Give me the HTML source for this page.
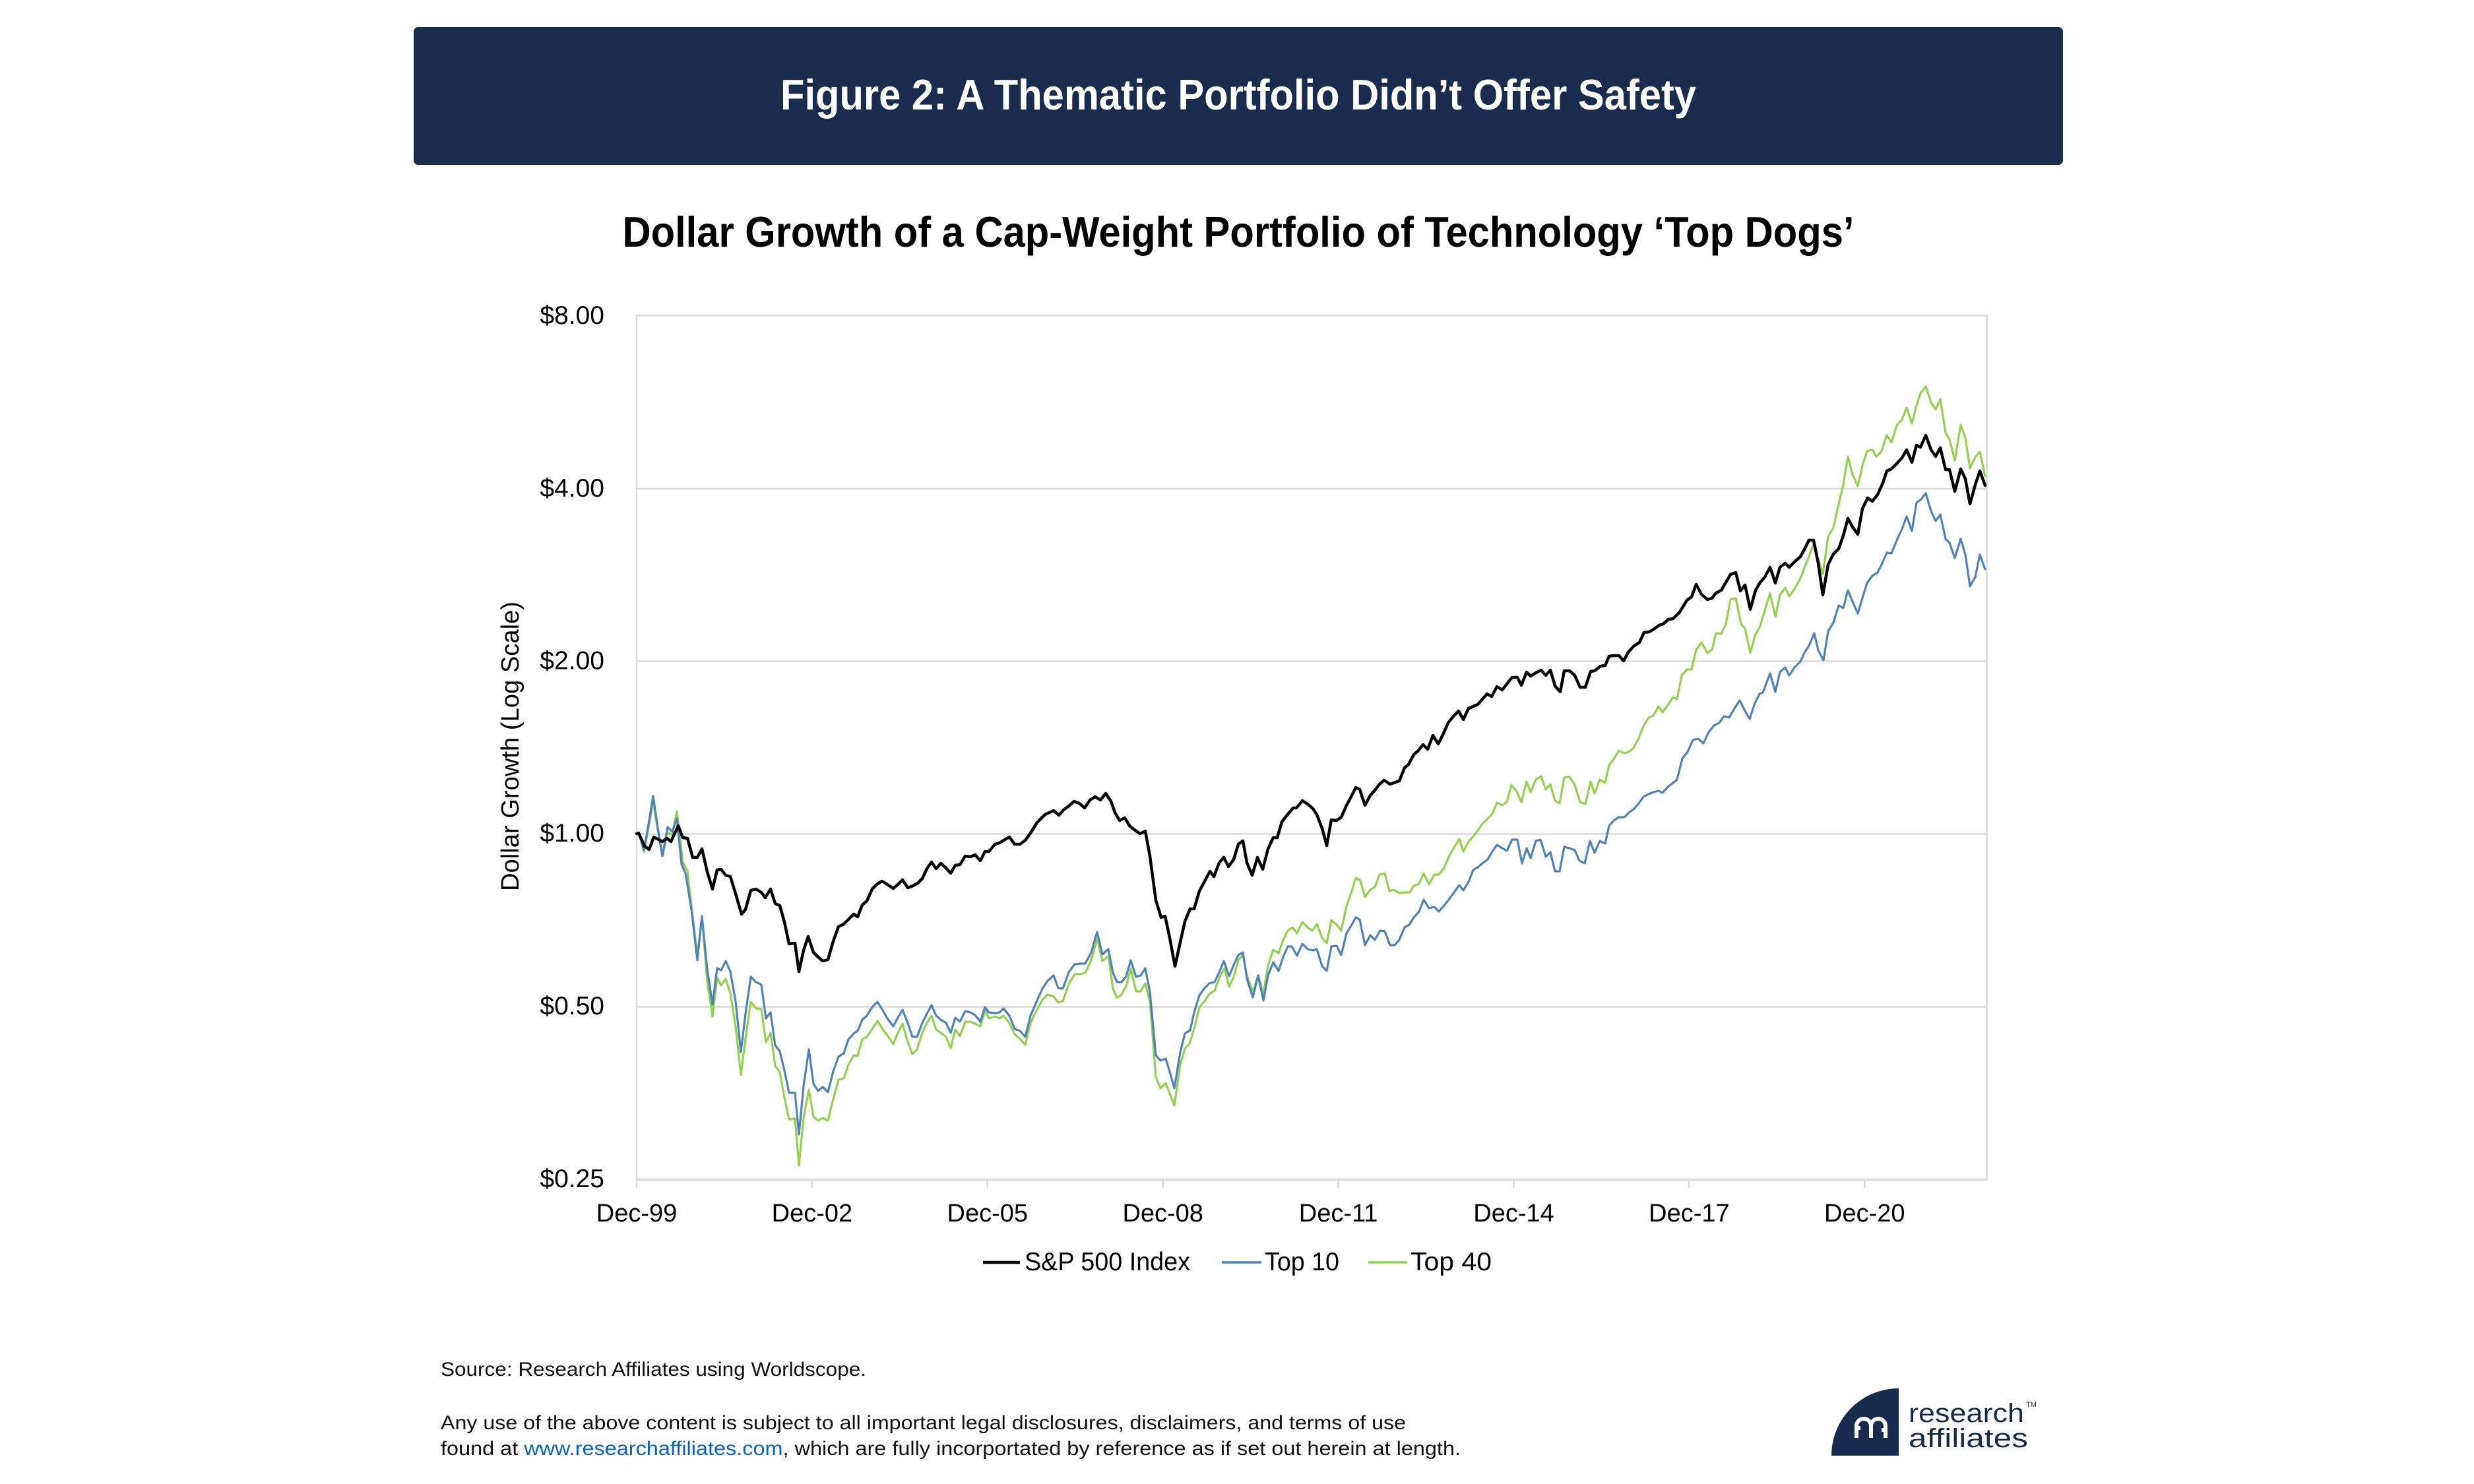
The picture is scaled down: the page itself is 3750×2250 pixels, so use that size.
<!DOCTYPE html>
<html>
<head>
<meta charset="utf-8">
<style>
  html, body { margin: 0; padding: 0; background: #ffffff; }
  body { width: 3750px; height: 2250px; overflow: hidden; }
  svg { display: block; }
  text { font-family: "Liberation Sans", Arial, sans-serif; }
</style>
</head>
<body>
<svg width="3750" height="2250" viewBox="0 0 3750 2250" xmlns="http://www.w3.org/2000/svg">
  <rect x="0" y="0" width="3750" height="2250" fill="#ffffff"/>

  <!-- Banner -->
  <rect x="627" y="41" width="2500" height="209" rx="7" ry="7" fill="#192c4e"/>
  <text x="1877" y="166" text-anchor="middle" font-size="65" font-weight="bold" fill="#ffffff" textLength="1388" lengthAdjust="spacingAndGlyphs">Figure 2: A Thematic Portfolio Didn’t Offer Safety</text>

  <!-- Subtitle -->
  <text x="1877" y="374" text-anchor="middle" font-size="65" font-weight="bold" fill="#000000" textLength="1867" lengthAdjust="spacingAndGlyphs">Dollar Growth of a Cap-Weight Portfolio of Technology ‘Top Dogs’</text>

  <!-- Gridlines -->
  <g stroke="#d9d9d9" stroke-width="2.5" fill="none">
    <line x1="965" y1="741" x2="3011" y2="741"/>
    <line x1="965" y1="1002.5" x2="3011" y2="1002.5"/>
    <line x1="965" y1="1264.5" x2="3011" y2="1264.5"/>
    <line x1="965" y1="1526.5" x2="3011" y2="1526.5"/>
    <rect x="965" y="478.5" width="2046.5" height="1310"/>
  </g>
  <line x1="964" y1="1788.5" x2="3012" y2="1788.5" stroke="#d9d9d9" stroke-width="3.5"/>
  <!-- x ticks -->
  <g stroke="#d9d9d9" stroke-width="2.5">
    <line x1="965" y1="1788" x2="965" y2="1801"/>
    <line x1="1230.9" y1="1788" x2="1230.9" y2="1801"/>
    <line x1="1496.8" y1="1788" x2="1496.8" y2="1801"/>
    <line x1="1762.7" y1="1788" x2="1762.7" y2="1801"/>
    <line x1="2028.6" y1="1788" x2="2028.6" y2="1801"/>
    <line x1="2294.5" y1="1788" x2="2294.5" y2="1801"/>
    <line x1="2560.4" y1="1788" x2="2560.4" y2="1801"/>
    <line x1="2826.3" y1="1788" x2="2826.3" y2="1801"/>
  </g>

  <!-- Y labels -->
  <g font-size="39" fill="#000000" text-anchor="end">
    <text x="916" y="491">$8.00</text>
    <text x="916" y="753">$4.00</text>
    <text x="916" y="1014.5">$2.00</text>
    <text x="916" y="1276">$1.00</text>
    <text x="916" y="1538">$0.50</text>
    <text x="916" y="1800">$0.25</text>
  </g>

  <!-- X labels -->
  <g font-size="38" fill="#000000" text-anchor="middle">
    <text x="965" y="1852">Dec-99</text>
    <text x="1230.9" y="1852">Dec-02</text>
    <text x="1496.8" y="1852">Dec-05</text>
    <text x="1762.7" y="1852">Dec-08</text>
    <text x="2028.6" y="1852">Dec-11</text>
    <text x="2294.5" y="1852">Dec-14</text>
    <text x="2560.4" y="1852">Dec-17</text>
    <text x="2826.3" y="1852">Dec-20</text>
  </g>

  <!-- Y axis title -->
  <text transform="translate(786,1131.5) rotate(-90)" x="0" y="0" text-anchor="middle" font-size="38" fill="#000000" textLength="439" lengthAdjust="spacingAndGlyphs">Dollar Growth (Log Scale)</text>

  <!-- Series: Top 40 (green) -->
  <polyline fill="none" stroke="#92d050" stroke-width="3.2" stroke-linejoin="round" stroke-linecap="round" points="
965,1264 969,1264 976,1292 983,1255 990,1215 997,1258 1004,1298 1012,1262 1019,1266 1026,1230 1035,1307 1042,1321 1050,1389 1057,1449 1064,1389 1072,1489 1080,1541 1087,1482 1093,1494 1100,1484 1107,1506 1115,1556 1123,1630 1130,1575 1138,1519 1146,1529 1154,1530 1161,1580 1168,1566 1175,1616 1182,1626 1189,1664 1196,1697 1205,1696 1211,1767 1218,1695 1226,1652 1233,1693 1240,1699 1247,1695 1255,1699 1263,1666 1271,1637 1279,1635 1286,1614 1294,1600 1300,1601 1307,1576 1314,1572 1322,1560 1330,1548 1337,1559 1345,1570 1354,1583 1361,1566 1368,1552 1376,1580 1383,1598 1390,1591 1398,1566 1405,1551 1412,1540 1419,1561 1426,1566 1434,1572 1441,1589 1448,1561 1455,1571 1463,1549 1471,1549 1478,1552 1486,1556 1493,1532 1499,1544 1508,1541 1515,1544 1521,1540 1530,1551 1538,1568 1546,1575 1554,1584 1562,1551 1571,1532 1580,1516 1588,1508 1597,1511 1604,1520 1611,1518 1620,1492 1629,1477 1638,1477 1645,1475 1654,1456 1663,1423 1671,1457 1680,1450 1687,1499 1693,1513 1700,1508 1707,1495 1714,1469 1722,1503 1729,1503 1736,1491 1743,1518 1752,1633 1759,1650 1767,1642 1780,1676 1789,1614 1796,1590 1803,1582 1810,1560 1818,1527 1826,1518 1833,1507 1841,1502 1849,1481 1856,1468 1863,1496 1870,1481 1877,1456 1884,1447 1890,1479 1899,1504 1907,1479 1915,1507 1922,1464 1930,1440 1938,1445 1945,1425 1952,1411 1959,1406 1966,1415 1974,1398 1982,1406 1989,1411 1996,1401 2004,1422 2011,1430 2018,1395 2026,1402 2033,1411 2041,1374 2049,1351 2055,1331 2062,1335 2069,1360 2077,1349 2084,1345 2091,1326 2099,1324 2106,1351 2113,1349 2121,1354 2130,1353 2137,1353 2143,1343 2151,1340 2158,1324 2166,1341 2174,1326 2181,1326 2189,1316 2196,1299 2204,1285 2212,1272 2218,1291 2226,1276 2234,1267 2240,1259 2247,1249 2255,1241 2262,1234 2269,1217 2277,1221 2284,1216 2291,1190 2299,1200 2306,1216 2314,1185 2320,1201 2328,1182 2336,1177 2343,1197 2350,1189 2357,1214 2364,1218 2371,1179 2379,1178 2387,1190 2395,1216 2403,1219 2411,1185 2417,1203 2425,1182 2433,1187 2439,1160 2446,1151 2454,1138 2462,1142 2469,1140 2476,1134 2484,1119 2491,1101 2499,1088 2506,1085 2514,1071 2520,1080 2528,1069 2536,1057 2542,1060 2549,1024 2557,1015 2564,1015 2571,985 2579,974 2588,990 2595,985 2601,960 2609,961 2616,946 2623,909 2631,907 2639,946 2645,953 2653,990 2660,964 2668,949 2675,925 2683,900 2691,935 2698,902 2706,891 2712,904 2720,893 2729,877 2735,861 2742,844 2749,824 2756,848 2763,870 2771,814 2779,800 2787,764 2794,735 2801,692 2808,719 2816,737 2823,706 2830,684 2838,682 2844,692 2852,684 2860,660 2867,671 2875,645 2883,636 2890,618 2898,642 2905,615 2911,596 2919,586 2927,610 2934,621 2941,605 2949,656 2955,666 2963,698 2972,644 2979,664 2986,710 2994,693 3001,685 3009,722"/>

  <!-- Series: Top 10 (blue) -->
  <polyline fill="none" stroke="#4f81bd" stroke-width="3.2" stroke-linejoin="round" stroke-linecap="round" points="
965,1264 969,1264 976,1289 983,1250 990,1207 997,1255 1004,1298 1012,1254 1019,1261 1026,1241 1033,1310 1039,1324 1048,1379 1057,1456 1064,1389 1072,1470 1080,1523 1087,1468 1093,1471 1100,1457 1107,1473 1115,1518 1123,1595 1130,1537 1138,1481 1146,1489 1154,1493 1161,1544 1168,1535 1175,1585 1182,1594 1189,1623 1196,1657 1205,1657 1211,1720 1218,1647 1226,1591 1233,1643 1240,1654 1247,1648 1255,1656 1263,1624 1271,1602 1279,1597 1286,1576 1294,1567 1300,1563 1307,1546 1314,1540 1322,1527 1330,1519 1337,1530 1345,1544 1354,1556 1361,1543 1368,1531 1376,1551 1383,1572 1390,1572 1398,1551 1405,1537 1412,1524 1419,1540 1426,1546 1434,1551 1441,1566 1448,1543 1455,1549 1463,1533 1471,1535 1478,1539 1486,1549 1493,1527 1499,1535 1508,1536 1515,1535 1521,1529 1530,1540 1538,1560 1546,1563 1554,1572 1562,1540 1571,1519 1580,1499 1588,1487 1597,1479 1604,1498 1611,1499 1620,1474 1629,1462 1638,1461 1645,1461 1654,1444 1663,1413 1671,1447 1680,1439 1687,1475 1693,1489 1700,1489 1707,1480 1714,1456 1722,1481 1729,1479 1736,1468 1743,1504 1752,1600 1759,1608 1767,1605 1773,1625 1780,1650 1789,1595 1796,1567 1804,1562 1810,1535 1818,1509 1826,1498 1833,1491 1841,1489 1849,1472 1855,1457 1863,1480 1870,1463 1877,1448 1884,1444 1890,1484 1899,1512 1907,1479 1915,1517 1922,1479 1930,1459 1938,1472 1945,1451 1952,1435 1958,1435 1966,1449 1974,1431 1982,1439 1990,1441 1996,1439 2004,1465 2011,1472 2018,1435 2026,1434 2033,1448 2041,1415 2049,1402 2055,1391 2061,1394 2069,1433 2077,1418 2084,1425 2092,1411 2099,1412 2107,1433 2114,1433 2121,1425 2129,1406 2136,1402 2143,1391 2151,1382 2158,1364 2166,1377 2174,1375 2181,1382 2189,1373 2196,1364 2204,1353 2212,1342 2218,1350 2226,1337 2233,1319 2240,1315 2247,1309 2255,1303 2262,1291 2269,1281 2277,1286 2284,1290 2292,1273 2300,1273 2307,1309 2314,1286 2320,1301 2328,1275 2335,1273 2343,1299 2350,1292 2357,1321 2364,1321 2371,1284 2379,1286 2387,1289 2394,1305 2402,1309 2410,1275 2417,1293 2425,1275 2433,1279 2439,1252 2446,1244 2454,1239 2462,1239 2469,1232 2476,1227 2484,1218 2491,1208 2499,1204 2506,1201 2514,1199 2520,1202 2528,1193 2536,1187 2542,1182 2550,1150 2558,1140 2566,1122 2574,1120 2582,1127 2590,1110 2598,1100 2606,1096 2613,1086 2621,1088 2629,1074 2637,1062 2645,1078 2652,1090 2660,1066 2667,1052 2672,1050 2683,1021 2691,1049 2698,1019 2706,1012 2712,1024 2720,1012 2729,1003 2735,990 2742,979 2750,960 2756,986 2764,1001 2771,957 2779,944 2787,918 2794,922 2801,895 2808,912 2816,930 2825,900 2830,884 2838,873 2846,868 2852,856 2860,838 2867,839 2876,817 2883,802 2890,783 2898,805 2905,762 2912,757 2919,748 2927,775 2934,790 2941,780 2949,817 2955,823 2963,846 2972,817 2979,841 2986,889 2994,875 3001,841 3009,863"/>

  <!-- Series: S&P 500 (black) -->
  <polyline fill="none" stroke="#000000" stroke-width="4.5" stroke-linejoin="round" stroke-linecap="round" points="
965,1264 968,1263 977,1283 984,1288 991,1269 1004,1276 1011,1271 1017,1276 1028,1252 1035,1270 1042,1271 1050,1300 1057,1300 1064,1287 1072,1322 1080,1348 1087,1319 1093,1318 1100,1327 1107,1329 1115,1355 1124,1386 1130,1379 1138,1350 1146,1348 1154,1353 1160,1361 1168,1348 1175,1370 1182,1373 1189,1398 1196,1431 1205,1430 1211,1473 1218,1441 1225,1420 1233,1444 1240,1451 1247,1457 1255,1455 1263,1427 1271,1405 1279,1401 1286,1394 1294,1386 1300,1390 1307,1372 1314,1366 1322,1348 1330,1340 1337,1336 1345,1341 1354,1347 1361,1341 1368,1334 1376,1346 1384,1343 1391,1339 1398,1332 1405,1317 1412,1307 1419,1317 1426,1309 1434,1316 1441,1324 1448,1312 1455,1311 1463,1298 1471,1299 1478,1296 1486,1305 1493,1291 1499,1291 1508,1280 1515,1278 1523,1273 1530,1269 1538,1280 1546,1280 1554,1274 1562,1263 1572,1247 1584,1235 1597,1229 1605,1236 1612,1228 1620,1222 1628,1215 1636,1218 1644,1225 1652,1213 1660,1208 1668,1213 1676,1203 1684,1215 1690,1232 1697,1244 1705,1240 1712,1252 1718,1257 1728,1264 1736,1260 1743,1298 1752,1365 1760,1391 1766,1389 1773,1422 1781,1465 1788,1433 1796,1397 1804,1378 1810,1378 1818,1351 1826,1336 1834,1321 1840,1329 1848,1308 1855,1300 1862,1314 1870,1303 1877,1280 1884,1275 1890,1308 1898,1327 1906,1300 1914,1318 1922,1287 1930,1270 1936,1270 1943,1246 1950,1237 1960,1225 1965,1225 1974,1214 1982,1219 1990,1226 1996,1235 2004,1256 2011,1282 2018,1243 2026,1244 2033,1239 2041,1221 2049,1206 2055,1194 2061,1197 2069,1221 2077,1206 2084,1198 2091,1189 2098,1183 2107,1189 2121,1184 2129,1164 2135,1159 2143,1144 2149,1139 2157,1129 2164,1136 2172,1115 2180,1128 2188,1112 2195,1096 2203,1086 2211,1078 2218,1091 2226,1074 2240,1068 2247,1060 2254,1052 2261,1056 2269,1041 2277,1046 2284,1037 2292,1027 2300,1027 2306,1039 2314,1019 2320,1025 2328,1020 2336,1016 2343,1024 2350,1016 2357,1040 2365,1049 2371,1017 2379,1017 2387,1024 2395,1042 2403,1042 2411,1018 2417,1017 2426,1010 2433,1009 2439,995 2446,994 2454,994 2461,1002 2468,989 2476,980 2485,974 2492,959 2500,958 2508,953 2515,948 2521,946 2529,939 2536,938 2546,928 2557,910 2564,905 2571,886 2579,901 2588,909 2595,907 2601,899 2609,895 2616,883 2623,871 2631,868 2638,896 2645,887 2653,924 2661,895 2668,883 2675,875 2683,860 2691,884 2698,860 2706,854 2712,860 2721,851 2729,844 2735,833 2742,819 2749,819 2756,854 2763,902 2771,856 2779,840 2787,832 2794,812 2801,786 2808,799 2816,810 2823,771 2831,755 2838,760 2846,750 2854,732 2860,714 2867,711 2874,704 2883,694 2890,682 2898,701 2905,675 2911,678 2919,660 2927,682 2934,692 2941,679 2949,712 2955,712 2963,745 2972,711 2979,726 2986,764 2994,735 3001,714 3009,736"/>

  <!-- Legend -->
  <line x1="1490" y1="1914" x2="1546" y2="1914" stroke="#000000" stroke-width="4.5"/>
  <text x="1553" y="1926" font-size="39" fill="#000000" textLength="251" lengthAdjust="spacingAndGlyphs">S&amp;P 500 Index</text>
  <line x1="1852" y1="1914" x2="1912" y2="1914" stroke="#4f81bd" stroke-width="3.5"/>
  <text x="1917" y="1926" font-size="39" fill="#000000" textLength="113" lengthAdjust="spacingAndGlyphs">Top 10</text>
  <line x1="2074" y1="1914" x2="2133" y2="1914" stroke="#92d050" stroke-width="3.5"/>
  <text x="2138" y="1926" font-size="39" fill="#000000" textLength="123" lengthAdjust="spacingAndGlyphs">Top 40</text>

  <!-- Footer -->
  <text x="668" y="2086" font-size="30" fill="#111111" textLength="645" lengthAdjust="spacingAndGlyphs">Source: Research Affiliates using Worldscope.</text>
  <text x="668" y="2167" font-size="30" fill="#111111" textLength="1463" lengthAdjust="spacingAndGlyphs">Any use of the above content is subject to all important legal disclosures, disclaimers, and terms of use</text>
  <text x="668" y="2206" font-size="30" fill="#111111" textLength="1546" lengthAdjust="spacingAndGlyphs">found at <tspan fill="#0563c1">www.researchaffiliates.com</tspan>, which are fully incorportated by reference as if set out herein at length.</text>

  <!-- Logo -->
  <path d="M2878,2105 L2878,2207 L2776,2207 A102,102 0 0 1 2878,2105 Z" fill="#172b4d"/>
  <g fill="none" stroke="#ffffff" stroke-width="6" stroke-linecap="butt">
    <path d="M2814,2180 L2814,2162 A11,11 0 0 1 2836,2162 L2836,2180"/>
    <path d="M2836,2180 L2836,2162 A11,11 0 0 1 2858,2162 L2858,2180"/>
    <line x1="2811" y1="2165" x2="2820" y2="2165"/>
    <line x1="2852" y1="2168" x2="2861" y2="2168"/>
  </g>
  <text x="2893" y="2156" font-size="40" fill="#172b4d" textLength="175" lengthAdjust="spacingAndGlyphs">research</text>
  <text x="3071" y="2133" font-size="11" fill="#172b4d">TM</text>
  <text x="2893" y="2194" font-size="40" fill="#172b4d" textLength="181" lengthAdjust="spacingAndGlyphs">affiliates</text>
</svg>
</body>
</html>
